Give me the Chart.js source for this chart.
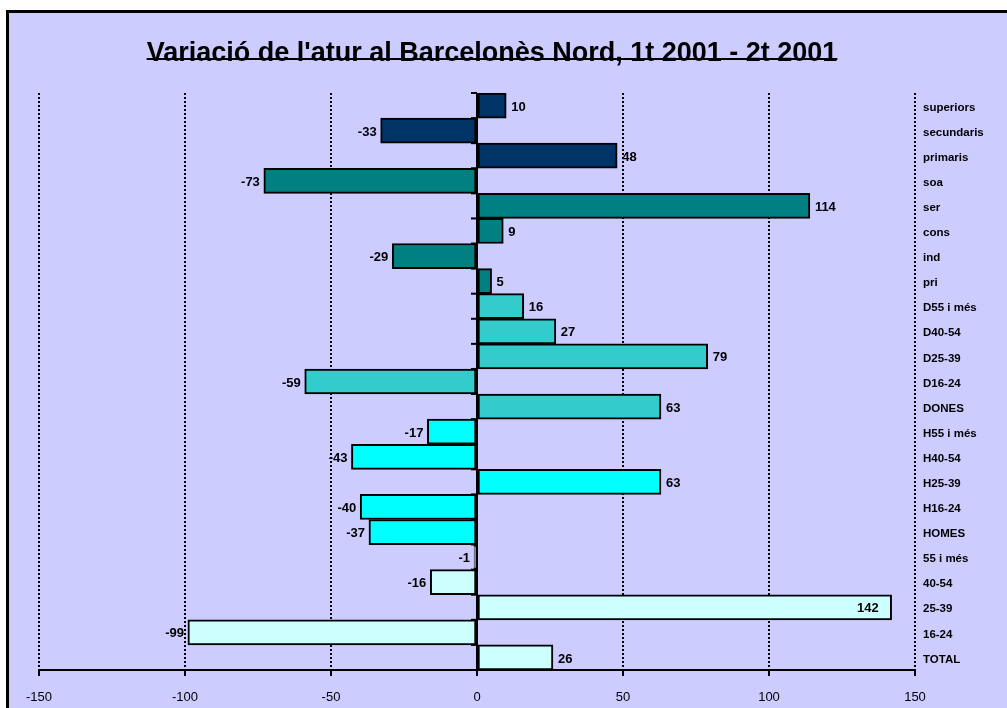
<!DOCTYPE html>
<html lang="ca">
<head>
<meta charset="utf-8">
<title>Variació de l'atur al Barcelonès Nord</title>
<script src="https://cdn.jsdelivr.net/npm/chart.js@4/dist/chart.umd.min.js"></script>
<style>
  html, body { margin: 0; padding: 0; background: #fff; overflow: hidden; }
  #marc { position: absolute; left: 6px; top: 10px; width: 1020px; height: 720px;
          background: #CCCCFF; border-left: 3px solid #000; border-top: 3px solid #000; }
  #grafic { position: absolute; left: 0; top: 0; }
</style>
</head>
<body>
<div id="marc"></div>
<canvas id="grafic" width="1007" height="708"></canvas>
<script>
const titol = "Variació de l'atur al Barcelonès Nord, 1t 2001 - 2t 2001";

const categories = ['superiors', 'secundaris', 'primaris', 'soa', 'ser', 'cons', 'ind', 'pri',
  'D55 i més', 'D40-54', 'D25-39', 'D16-24', 'DONES',
  'H55 i més', 'H40-54', 'H25-39', 'H16-24', 'HOMES',
  '55 i més', '40-54', '25-39', '16-24', 'TOTAL'];
const variacio = [10, -33, 48, -73, 114, 9, -29, 5,
  16, 27, 79, -59, 63,
  -17, -43, 63, -40, -37,
  -1, -16, 142, -99, 26];
const grups = ['estudis', 'estudis', 'estudis', 'sector', 'sector', 'sector', 'sector', 'sector',
  'dones', 'dones', 'dones', 'dones', 'dones',
  'homes', 'homes', 'homes', 'homes', 'homes',
  'edat', 'edat', 'edat', 'edat', 'edat'];
const eixMin = -150, eixMax = 150, eixPas = 50;

const colorGrup = {
  estudis: '#003366',
  sector: '#008080',
  dones: '#33CCCC',
  homes: '#00FFFF',
  edat: '#CCFFFF'
};
const FONT = 'Arial, "Liberation Sans", sans-serif';

const detalls = {
  id: 'detalls',
  beforeDatasetsDraw(chart) {
    // petites marques de l'eix de categories (creua a 0)
    const { ctx, scales: { x, y } } = chart;
    const x0 = x.getPixelForValue(0);
    const pas = (y.bottom - y.top) / categories.length;
    ctx.save();
    ctx.strokeStyle = '#000';
    ctx.lineWidth = 2;
    for (let k = 0; k < categories.length; k++) {
      const yy = y.getPixelForValue(k) - pas / 2;
      ctx.beginPath();
      ctx.moveTo(x0 - 6, yy);
      ctx.lineTo(x0, yy);
      ctx.stroke();
    }
    ctx.restore();
  },
  afterDatasetsDraw(chart) {
    const { ctx, chartArea: a, scales: { x } } = chart;
    const x0 = x.getPixelForValue(0);
    ctx.save();
    ctx.strokeStyle = '#000';
    ctx.lineWidth = 2;
    ctx.beginPath();
    ctx.moveTo(x0, a.top);
    ctx.lineTo(x0, a.bottom);
    ctx.stroke();

    // etiquetes de valor
    ctx.font = 'bold 13px ' + FONT;
    ctx.fillStyle = '#000';
    ctx.textBaseline = 'middle';
    chart.getDatasetMeta(0).data.forEach((bar, i) => {
      const v = variacio[i];
      const txt = String(v);
      const w = ctx.measureText(txt).width;
      if (v >= 0) {
        if (bar.x + 5 + w > a.right) {
          ctx.textAlign = 'right';
          ctx.fillText(txt, bar.x - 13, bar.y + 1.5);
        } else {
          ctx.textAlign = 'left';
          ctx.fillText(txt, bar.x + 5, bar.y + 1.5);
        }
      } else {
        ctx.textAlign = 'right';
        ctx.fillText(txt, bar.x - 4, bar.y + 1.5);
      }
    });
    ctx.restore();
  },
  afterDraw(chart) {
    const { ctx } = chart;
    ctx.save();
    ctx.font = 'bold 27px ' + FONT;
    ctx.fillStyle = '#000';
    ctx.textAlign = 'center';
    ctx.textBaseline = 'alphabetic';
    const cx = 492, by = 61;
    ctx.fillText(titol, cx, by);
    const w = ctx.measureText(titol).width;
    ctx.fillRect(cx - w / 2, by - 3, w, 2);
    ctx.restore();
  }
};

new Chart(document.getElementById('grafic'), {
  type: 'bar',
  data: {
    labels: categories,
    datasets: [{
      data: variacio,
      backgroundColor: grups.map(g => colorGrup[g]),
      borderColor: '#000',
      borderWidth: 2,
      borderSkipped: false,
      barPercentage: 1,
      categoryPercentage: 1
    }]
  },
  options: {
    indexAxis: 'y',
    responsive: false,
    animation: false,
    layout: { padding: { left: 39, right: 0, top: 93, bottom: 0 } },
    plugins: {
      legend: { display: false },
      tooltip: { enabled: false }
    },
    scales: {
      x: {
        type: 'linear',
        min: eixMin,
        max: eixMax,
        ticks: {
          stepSize: eixPas,
          color: '#000',
          padding: 14,
          font: { family: FONT, size: 13 }
        },
        grid: {
          color: '#000',
          lineWidth: 2,
          tickLength: 6,
          tickWidth: 2,
          tickColor: '#000',
          tickBorderDash: []
        },
        border: { display: true, color: '#000', width: 2, dash: [2, 2] },
        afterFit: s => { s.height = 38; }
      },
      y: {
        position: 'right',
        grid: { display: false, drawTicks: false },
        border: { display: false },
        ticks: {
          color: '#000',
          crossAlign: 'near',
          padding: 8,
          labelOffset: 2,
          autoSkip: false,
          font: { family: FONT, size: 11.5, weight: 'bold' }
        },
        afterFit: s => { s.width = 92; }
      }
    }
  },
  plugins: [detalls]
});
</script>
</body>
</html>
